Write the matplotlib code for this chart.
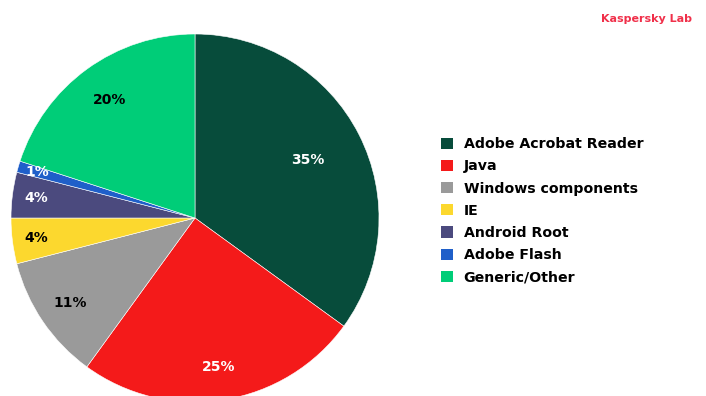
import matplotlib
matplotlib.use("Agg")
import matplotlib.pyplot as plt
import numpy as np
from matplotlib.patches import Patch

categories = ["Adobe Acrobat Reader", "Java", "Windows components", "IE",
              "Android Root", "Adobe Flash", "Generic/Other"]
values = [35, 25, 11, 4, 4, 1, 20]
labels = ["35%", "25%", "11%", "4%", "4%", "1%", "20%"]

colors = ["#074c3b", "#f41a1a", "#9a9a9a", "#fcd82e", "#4b4a7e", "#1f5fc9", "#00cd78"]
label_colors = ["white", "white", "black", "black", "white", "white", "black"]
label_radii = [0.69, 0.82, 0.82, 0.87, 0.87, 0.89, 0.79]

W, H = 706, 396
fig = plt.figure(figsize=(W / 100, H / 100), dpi=100)
plt.rcParams['font.family'] = ['DejaVu Sans']

cx, cy, r = 195, 218, 184
ax = fig.add_axes([(cx - r) / W, (H - cy - r) / H, 2 * r / W, 2 * r / H])
wedges, _ = ax.pie(values, colors=colors, startangle=90, counterclock=False,
                   wedgeprops=dict(linewidth=0.4, edgecolor="white"))
ax.set_aspect("equal")
ax.set_xlim(-1, 1)
ax.set_ylim(-1, 1)
ax.axis("off")

for w, lab, c, rr in zip(wedges, labels, label_colors, label_radii):
    ang = np.deg2rad((w.theta1 + w.theta2) / 2)
    ax.text(rr * np.cos(ang), rr * np.sin(ang), lab, ha="center", va="center",
            color=c, fontsize=10, fontweight="bold")

handles = [Patch(facecolor=c, edgecolor="none") for c in colors]
fig.legend(handles, categories, loc="upper left",
           bbox_to_anchor=(434 / W, 1 - 130 / H), frameon=False,
           prop=dict(size=10.2, weight="bold"),
           handlelength=0.85, handleheight=0.85, handletextpad=0.75,
           labelspacing=0.58, borderpad=0)

fig.text(692 / W, 1 - 19 / H, "Kaspersky Lab", ha="right", va="center",
         color="#f0304a", fontsize=8, fontweight="bold")

fig.savefig("out.png", dpi=100)
